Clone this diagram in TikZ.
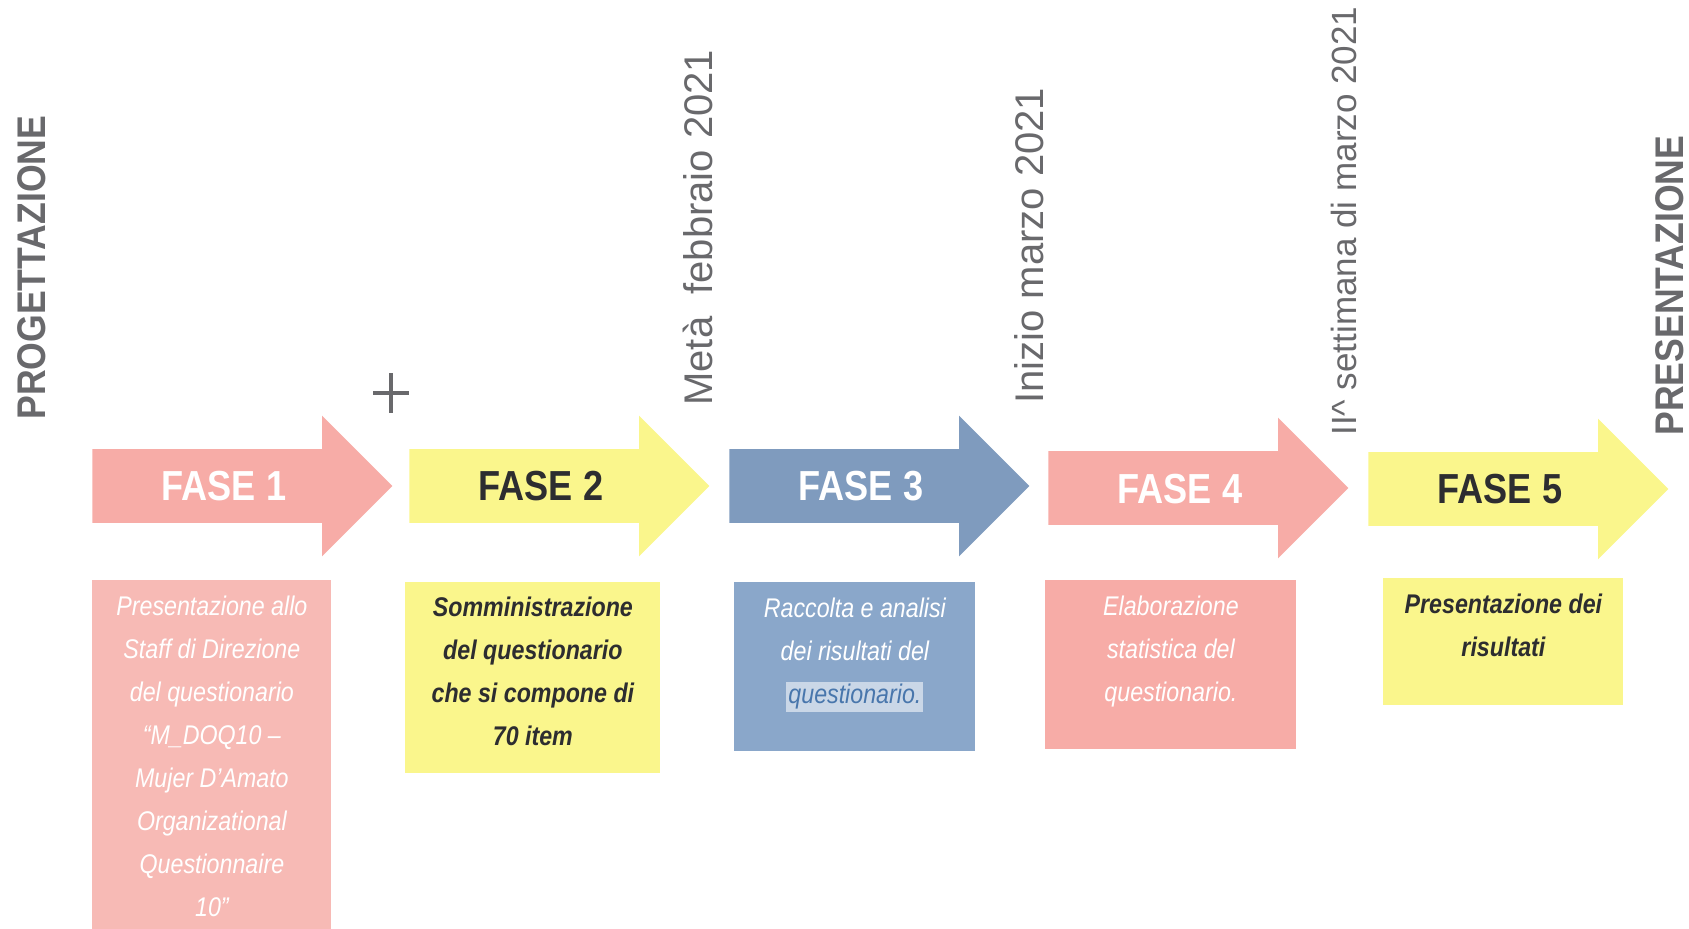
\documentclass[tikz,border=0pt]{standalone}
\usepackage{fontspec}
\setmainfont{Liberation Sans}
\newfontfamily\narrowfont[FakeStretch=0.86]{Liberation Sans}
\newfontfamily\titlefont[FakeStretch=0.89]{Liberation Sans}
\usetikzlibrary{shapes.arrows,positioning}

\definecolor{rosa}{RGB}{247,172,167}
\definecolor{rosachiaro}{RGB}{247,186,181}
\definecolor{giallo}{RGB}{250,246,140}
\definecolor{azzurro}{RGB}{127,155,190}
\definecolor{azzurrobox}{RGB}{138,167,202}
\definecolor{grigio}{RGB}{105,105,108}
\definecolor{scuro}{RGB}{45,45,48}
\definecolor{blutesto}{RGB}{72,118,172}

\tikzset{
  fase/.style={single arrow, draw=none, inner xsep=2pt, inner ysep=0pt,
    text height=25.75pt, text depth=10.75pt,
    single arrow head extend=16.75pt, minimum height=150pt,
    font=\narrowfont\bfseries\fontsize{21}{24}\selectfont},
  riquadro/.style={rectangle, draw=none, inner sep=0pt, anchor=north west},
  testo/.style={inner sep=0pt, align=center,
    font=\narrowfont\itshape\fontsize{13.5}{21.5}\selectfont},
  data/.style={rotate=90, anchor=west, inner sep=0pt, text=grigio,
    font=\fontsize{20}{24}\selectfont},
  titolo/.style={rotate=90, anchor=west, inner sep=0pt, text=grigio,
    font=\titlefont\bfseries\fontsize{20}{24}\selectfont}
}

\begin{document}
\begin{tikzpicture}[x=0.5pt,y=-0.5pt]
            \useasboundingbox (0,0) rectangle (1689,929);

            % code delle frecce
            \coordinate (c1) at (92,486);
            \coordinate (c2) at (409,486);
            \coordinate (c3) at (729,486);
            \coordinate (c4) at (1048,488);
            \coordinate (c5) at (1368,489);

            \node[fase, fill=rosa, text=white, anchor=tail]    (f1) at (c1) {FASE 1};
            \node[fase, fill=giallo, text=scuro, anchor=tail]  (f2) at (c2) {FASE 2};
            \node[fase, fill=azzurro, text=white, anchor=tail] (f3) at (c3) {FASE 3};
            \node[fase, fill=rosa, text=white, anchor=tail]    (f4) at (c4) {FASE 4};
            \node[fase, fill=giallo, text=scuro, anchor=tail]  (f5) at (c5) {FASE 5};

            % riquadri
            \node[riquadro, fill=rosachiaro, minimum width=119.5pt, minimum height=174.5pt] (b1) at (92,580) {};
            \node[riquadro, fill=giallo, minimum width=127.5pt, minimum height=95.5pt]      (b2) at (405,582) {};
            \node[riquadro, fill=azzurrobox, minimum width=120.5pt, minimum height=84.5pt]  (b3) at (734,582) {};
            \node[riquadro, fill=rosa, minimum width=125.5pt, minimum height=84.5pt]        (b4) at (1045,580) {};
            \node[riquadro, fill=giallo, minimum width=120pt, minimum height=63.5pt]        (b5) at (1383,578) {};

            \node[testo, text=white, below=8pt of b1.north] (t1)
                {Presentazione allo\\Staff di Direzione\\del questionario\\“M\_DOQ10 –\\Mujer D’Amato\\Organizational\\Questionnaire\\10”};
            \node[testo, text=scuro, font=\narrowfont\bfseries\itshape\fontsize{13.5}{21.5}\selectfont, below=7.5pt of b2.north] (t2)
                {Somministrazione\\del questionario\\che si compone di\\70 item};
            \node[testo, text=white, below=8pt of b3.north] (t3)
                {Raccolta e analisi\\dei risultati del\\{\setlength{\fboxsep}{1pt}\colorbox{white!55!azzurrobox}{\textcolor{blutesto}{questionario.}}}};
            \node[testo, text=white, below=8pt of b4.north] (t4)
                {Elaborazione\\statistica del\\questionario.};
            \node[testo, text=scuro, font=\narrowfont\bfseries\itshape\fontsize{13.5}{21.5}\selectfont, below=8pt of b5.north] (t5)
                {Presentazione dei\\risultati};

            % scritte verticali
            \node[titolo] (p1) at (32,420) {PROGETTAZIONE};
            \node[data]   (d1) at (698,406) {Metà\ \ febbraio 2021};
            \node[data]   (d2) at (1029,404) {Inizio marzo 2021};
            \node[data, font=\fontsize{17.5}{21}\selectfont] (d3) at (1344,436) {II\textasciicircum{} settimana di marzo 2021};
            \node[titolo] (p2) at (1670,436) {PRESENTAZIONE};

            % crocetta
            \coordinate (x1) at (391,393);
            \draw[grigio, line width=2pt] ([yshift=-10pt]x1) -- ([yshift=10pt]x1);
            \draw[grigio, line width=2pt] ([xshift=-9pt]x1) -- ([xshift=9pt]x1);
        \end{tikzpicture}
\end{document}
